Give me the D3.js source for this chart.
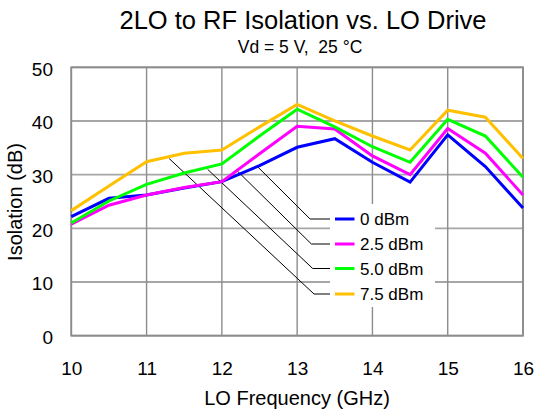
<!DOCTYPE html>
<html><head><meta charset="utf-8">
<script src="https://cdn.jsdelivr.net/npm/d3@7"></script>
<style>body{margin:0;background:#fff}svg{display:block}text{font-family:"Liberation Sans",Arial,sans-serif;fill:#000;white-space:pre}</style>
</head><body><svg id="c" width="540" height="411"></svg>
<script>
const freq = [10,10.5,11,11.5,12,12.5,13,13.5,14,14.5,15,15.5,16];
const s0  = [22.2,25.6,26.2,27.5,28.7,31.7,35.1,36.7,32.3,28.6,37.4,31.5,23.8];
const s25 = [20.8,24.3,26.2,27.6,28.7,33.9,39.0,38.5,33.5,30.0,38.6,34.0,26.2];
const s50 = [21.0,25.1,28.2,30.3,32.0,37.2,42.2,38.9,35.2,32.3,40.3,37.2,29.5];
const s75 = [23.3,27.9,32.4,34.0,34.6,38.9,43.1,40.0,37.2,34.6,42.0,40.7,33.0];
const seriesNames = ["0 dBm","2.5 dBm","5.0 dBm","7.5 dBm"];
const colors = ["#0000ff","#ff00ff","#00ff00","#ffc000"];
const xTicks = [10,11,12,13,14,15,16];
const yTicks = [0,10,20,30,40,50];
// leader line anchors on the curves (frequency, dB)
const anchorX = [12.48,12.19,11.81,11.30];
const anchorY = [31.4,30.9,31.0,33.0];

const svg = d3.select("#c");
const L=71.3,R=523,T=67.3,B=335.7;
const x = d3.scaleLinear().domain([10,16]).range([L,R]);
const y = d3.scaleLinear().domain([0,50]).range([B,T]);

// grid
svg.append("g").selectAll("line").data(yTicks).join("line")
  .attr("x1",L).attr("x2",R).attr("y1",d=>y(d)).attr("y2",d=>y(d))
  .attr("stroke","#a6a6a6").attr("stroke-width",1.8);
svg.append("g").selectAll("line").data(xTicks).join("line")
  .attr("y1",T).attr("y2",B).attr("x1",d=>x(d)).attr("x2",d=>x(d))
  .attr("stroke","#8c8c8c").attr("stroke-width",1.4);

// legend background
const rowY = [219,244,268.5,294];
svg.append("rect").attr("x",330).attr("y",204).attr("width",105).attr("height",103).attr("fill","#fff");

// frame
svg.append("rect").attr("x",L).attr("y",T).attr("width",R-L).attr("height",B-T)
  .attr("fill","none").attr("stroke","#8c8c8c").attr("stroke-width",1.8);

// axes tick labels
const xa = d3.axisBottom(x).tickValues(xTicks).tickFormat(d3.format("d")).tickSize(0).tickPadding(0);
const gx = svg.append("g").attr("transform",`translate(0,${B})`).call(xa);
gx.select(".domain").remove();
gx.selectAll("text").attr("dy","0.36em").attr("y",32).attr("font-size",19).style("font-family","Liberation Sans, Arial");
const ya = d3.axisLeft(y).tickValues(yTicks).tickFormat(d3.format("d")).tickSize(0).tickPadding(0);
const gy = svg.append("g").attr("transform",`translate(53,1)`).call(ya);
gy.select(".domain").remove();
gy.selectAll("text").attr("dy","0.36em").attr("x",0).attr("font-size",19).style("font-family","Liberation Sans, Arial");

// series
const all = [s0,s25,s50,s75];
const line = d3.line().x((d,i)=>x(freq[i])).y(d=>y(d));
// leader lines
all.forEach((s,k)=>{
  svg.append("polyline")
   .attr("points",[[x(anchorX[k]),y(anchorY[k])],[314-(3-k)*1.3,rowY[k]],[330,rowY[k]]].map(p=>p.join(",")).join(" "))
   .attr("fill","none").attr("stroke","#000").attr("stroke-width",1);
});
all.forEach((s,k)=>{
  svg.append("path").datum(s).attr("d",line).attr("fill","none")
    .attr("stroke",colors[k]).attr("stroke-width",3).attr("stroke-linejoin","miter");
});

// legend
seriesNames.forEach((n,k)=>{
  svg.append("line").attr("x1",335).attr("x2",354.5).attr("y1",rowY[k]).attr("y2",rowY[k])
    .attr("stroke",colors[k]).attr("stroke-width",3);
  svg.append("text").attr("x",360).attr("y",rowY[k]).attr("dy","0.36em").attr("font-size",17).text(n);
});

// titles
svg.append("text").attr("x",303).attr("y",29).attr("text-anchor","middle").attr("font-size",25.5).text("2LO to RF Isolation vs. LO Drive");
svg.append("text").attr("x",300).attr("y",53).attr("text-anchor","middle").attr("font-size",17.5).text("Vd = 5 V,  25 °C");
svg.append("text").attr("x",297).attr("y",405).attr("text-anchor","middle").attr("font-size",20).text("LO Frequency (GHz)");
svg.append("text").attr("transform","translate(22,202) rotate(-90)").attr("text-anchor","middle").attr("font-size",20).text("Isolation (dB)");
</script></body></html>
